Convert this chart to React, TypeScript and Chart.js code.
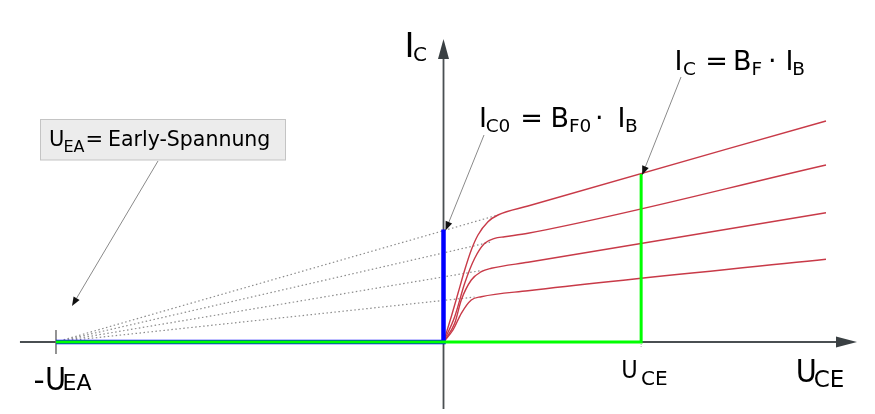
import React, { useEffect, useRef } from "react";
import { Chart, registerables } from "chart.js";

Chart.register(...registerables);

// ---- data (arbitrary units: U in "V", I in "mA") ----
const EARLY_X = -100; // -U_EA
const UCE_MARK = 51; // U_CE marker
const IC0_TOP = 11.25; // I_C0 marked by blue line
const IC_AT_UCE = 16.8; // I_C at U_CE (green marker)

const curve1X = [0, 2.0, 3.74, 5.47, 7.17, 8.9, 11.48, 14.06, 21.8, 98.7];
const curve1Y = [0, 2.53, 4.87, 7.2, 9.2, 10.7, 12.03, 12.7, 13.6, 22.1];
const curve2X = [0, 2.89, 5.47, 8.05, 10.63, 13.2, 15.8, 21.8, 98.7];
const curve2Y = [0, 2.53, 5.87, 8.37, 9.87, 10.37, 10.53, 10.87, 17.7];
const curve3X = [0, 2.89, 4.59, 7.17, 9.75, 12.34, 21.8, 98.7];
const curve3Y = [0, 1.87, 4.2, 6.2, 7.03, 7.37, 7.97, 12.93];
const curve4X = [0, 2.45, 4.59, 7.17, 9.75, 21.8, 98.7];
const curve4Y = [0, 1.2, 2.87, 4.2, 4.53, 5.13, 8.27];

const dotEndX = [14.06, 12.0, 10.0, 8.0];
const dotEndY = [12.7, 9.98, 7.16, 4.49];

const xAxisRange = [-109.3, 106.7];
const yAxisRange = [-6.7, 30.3];

const X_MIN = -114.45;
const X_MAX = 111.35;
const Y_MIN = -7.2;
const Y_MAX = 34.2;

const FONT = "'DejaVu Sans', sans-serif";
const FONT_C = "'DejaVu Sans Condensed', 'DejaVu Sans', sans-serif";

const xy = (xs: number[], ys: number[]) => xs.map((x, i) => ({ x, y: ys[i] }));

type Run = { t: string; x: number; y: number; s: number; c?: boolean };

function drawRuns(ctx: CanvasRenderingContext2D, runs: Run[]) {
  ctx.fillStyle = "#000";
  ctx.textBaseline = "alphabetic";
  ctx.textAlign = "left";
  for (const r of runs) {
    ctx.font = `${r.s}px ${r.c ? FONT_C : FONT}`;
    ctx.fillText(r.t, r.x, r.y);
  }
}

function arrow(ctx: CanvasRenderingContext2D, x0: number, y0: number, x1: number, y1: number) {
  const a = Math.atan2(y1 - y0, x1 - x0);
  const L = 9, W = 3.5;
  const bx = x1 - L * Math.cos(a), by = y1 - L * Math.sin(a);
  ctx.strokeStyle = "#8a8a8a";
  ctx.lineWidth = 1;
  ctx.beginPath();
  ctx.moveTo(x0, y0);
  ctx.lineTo(bx, by);
  ctx.stroke();
  ctx.fillStyle = "#111";
  ctx.beginPath();
  ctx.moveTo(x1, y1);
  ctx.lineTo(bx + W * Math.sin(a), by - W * Math.cos(a));
  ctx.lineTo(bx - W * Math.sin(a), by + W * Math.cos(a));
  ctx.closePath();
  ctx.fill();
}

const overlay = {
  id: "overlay",
  beforeDatasetsDraw(chart: any) {
    const ctx: CanvasRenderingContext2D = chart.ctx;
    const xs = chart.scales.x, ys = chart.scales.y;
    const ox = xs.getPixelForValue(0), oy = ys.getPixelForValue(0);
    const axisColor = "#4a4f52";
    ctx.save();
    // x axis
    const xa0 = xs.getPixelForValue(xAxisRange[0]);
    const xa1 = xs.getPixelForValue(xAxisRange[1]);
    ctx.strokeStyle = axisColor;
    ctx.lineWidth = 2;
    ctx.beginPath();
    ctx.moveTo(xa0, oy);
    ctx.lineTo(xa1 - 18, oy);
    ctx.stroke();
    ctx.fillStyle = "#3a4043";
    ctx.beginPath();
    ctx.moveTo(xa1, oy);
    ctx.lineTo(xa1 - 21, oy - 5.5);
    ctx.lineTo(xa1 - 21, oy + 5.5);
    ctx.closePath();
    ctx.fill();
    // y axis
    const ya0 = ys.getPixelForValue(yAxisRange[0]);
    const ya1 = ys.getPixelForValue(yAxisRange[1]);
    ctx.beginPath();
    ctx.lineWidth = 1.8;
    ctx.moveTo(ox, ya0);
    ctx.lineTo(ox, ya1 + 18);
    ctx.stroke();
    ctx.beginPath();
    ctx.moveTo(ox, ya1);
    ctx.lineTo(ox - 5.5, ya1 + 20);
    ctx.lineTo(ox + 5.5, ya1 + 20);
    ctx.closePath();
    ctx.fill();
    // tick at -U_EA
    const ex = xs.getPixelForValue(EARLY_X);
    ctx.strokeStyle = "#707070";
    ctx.lineWidth = 1.5;
    ctx.beginPath();
    ctx.moveTo(ex, oy - 12);
    ctx.lineTo(ex, oy + 12);
    ctx.stroke();
    // tick at U_CE
    const ux = xs.getPixelForValue(UCE_MARK);
    ctx.strokeStyle = "#b0b0b0";
    ctx.lineWidth = 1;
    ctx.setLineDash([1, 1]);
    ctx.beginPath();
    ctx.moveTo(ux, oy);
    ctx.lineTo(ux, oy + 5);
    ctx.stroke();
    ctx.restore();
  },
  afterDatasetsDraw(chart: any) {
    const ctx: CanvasRenderingContext2D = chart.ctx;
    const xs = chart.scales.x, ys = chart.scales.y;
    ctx.save();
    // annotation box
    ctx.fillStyle = "#ececec";
    ctx.fillRect(40.5, 119.5, 245, 40.5);
    ctx.strokeStyle = "#c4c4c4";
    ctx.lineWidth = 1;
    ctx.strokeRect(40.5, 119.5, 245, 40.5);
    drawRuns(ctx, [
      { t: "U", x: 49, y: 146, s: 21 },
      { t: "EA", x: 63.5, y: 151.5, s: 16 },
      { t: "=", x: 85.5, y: 146, s: 21 },
      { t: "Early-Spannung", x: 108, y: 146, s: 20.5 },
    ]);
    // arrows
    arrow(ctx, 158, 161, 72, 306);
    arrow(ctx, 484, 135, xs.getPixelForValue(0) + 2, ys.getPixelForValue(IC0_TOP) + 1);
    arrow(ctx, 681, 77, xs.getPixelForValue(UCE_MARK) + 1, ys.getPixelForValue(IC_AT_UCE) + 1);
    // axis labels
    drawRuns(ctx, [
      { t: "I", x: 404.4, y: 57, s: 34 },
      { t: "C", x: 412.9, y: 60.5, s: 20 },
      { t: "U", x: 795.8, y: 382, s: 32, c: true },
      { t: "CE", x: 813.7, y: 386.5, s: 23 },
      { t: "-", x: 33.6, y: 389.5, s: 31 },
      { t: "U", x: 45, y: 389.5, s: 32, c: true },
      { t: "EA", x: 62.5, y: 390, s: 22 },
      { t: "U", x: 621.3, y: 378, s: 25, c: true },
      { t: "CE", x: 641, y: 384.5, s: 20 },
    ]);
    // formulas
    drawRuns(ctx, [
      { t: "I", x: 479, y: 127, s: 27 },
      { t: "C0", x: 485.7, y: 131.5, s: 18.5 },
      { t: "=", x: 520.3, y: 127, s: 27 },
      { t: "B", x: 550.4, y: 127, s: 27 },
      { t: "F0", x: 568.9, y: 131.5, s: 18.5 },
      { t: "·", x: 595, y: 127, s: 27 },
      { t: "I", x: 617.4, y: 127, s: 27 },
      { t: "B", x: 624.9, y: 131.5, s: 18.5 },

      { t: "I", x: 674.4, y: 70, s: 27 },
      { t: "C", x: 683, y: 74.5, s: 18.5 },
      { t: "=", x: 705.3, y: 70, s: 27 },
      { t: "B", x: 733, y: 70, s: 27 },
      { t: "F", x: 751.5, y: 74.5, s: 18.5 },
      { t: "·", x: 768, y: 70, s: 27 },
      { t: "I", x: 785.4, y: 70, s: 27 },
      { t: "B", x: 792.2, y: 74.5, s: 18.5 },
    ]);
    ctx.restore();
  },
};

export default function App() {
  const ref = useRef<HTMLCanvasElement | null>(null);
  useEffect(() => {
    if (!ref.current) return;
    const red = "#c83a48";
    const curves = [
      xy(curve1X, curve1Y),
      xy(curve2X, curve2Y),
      xy(curve3X, curve3Y),
      xy(curve4X, curve4Y),
    ];
    const datasets: any[] = [];
    datasets.push({
      data: [{ x: EARLY_X, y: 0 }, { x: UCE_MARK, y: 0 }, { x: UCE_MARK, y: IC_AT_UCE }],
      borderColor: "#00ff00",
      borderWidth: 3,
      borderJoinStyle: "miter",
      order: 1,
    });
    datasets.push({
      data: [{ x: EARLY_X, y: 0 }, { x: 0, y: 0 }, { x: 0, y: IC0_TOP }],
      borderColor: "#0000ff",
      borderWidth: 4.5,
      borderJoinStyle: "miter",
      order: 2,
    });
    curves.forEach((c) =>
      datasets.push({
        data: c,
        borderColor: red,
        borderWidth: 1.4,
        cubicInterpolationMode: "monotone",
        order: 3,
      })
    );
    dotEndX.forEach((x, i) =>
      datasets.push({
        data: [{ x: EARLY_X, y: 0 }, { x, y: dotEndY[i] }],
        borderColor: "#8c8c8c",
        borderWidth: 1.2,
        borderDash: [1.5, 2.5],
        order: 4,
      })
    );
    const chart = new Chart(ref.current, {
      type: "line",
      data: { datasets },
      options: {
        responsive: false,
        animation: false,
        layout: { padding: 0 },
        elements: { point: { radius: 0, hoverRadius: 0 } },
        plugins: { legend: { display: false }, tooltip: { enabled: false } },
        scales: {
          x: { type: "linear", min: X_MIN, max: X_MAX, display: false },
          y: { type: "linear", min: Y_MIN, max: Y_MAX, display: false },
        },
      },
      plugins: [overlay],
    });
    return () => chart.destroy();
  }, []);
  return (
    <div style={{ position: "absolute", left: 0, top: 0, width: 875, height: 414, background: "#fff" }}>
      <canvas ref={ref} width={875} height={414} style={{ display: "block" }} />
    </div>
  );
}
